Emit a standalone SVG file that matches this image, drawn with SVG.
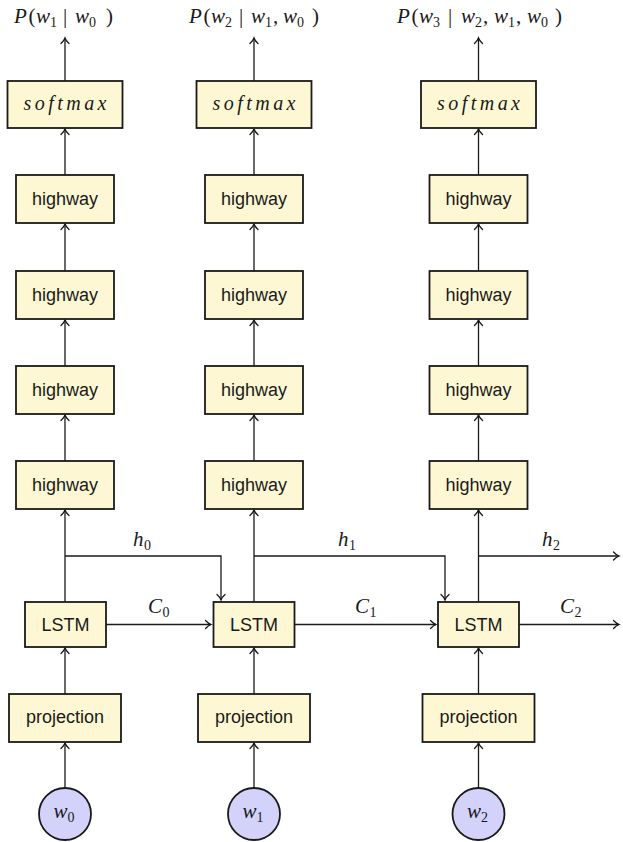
<svg xmlns="http://www.w3.org/2000/svg" width="623" height="842" viewBox="0 0 623 842">
<style>
.box{fill:#fdf8d3;stroke:#1a1a1a;stroke-width:1.8}
.circ{fill:#d2d2fa;stroke:#1a1a1a;stroke-width:1.8}
.lbl{font-family:"Liberation Sans",Arial,sans-serif;font-size:18px;fill:#1a1a1a;text-anchor:middle}
.sm{font-family:"Liberation Serif","Times New Roman",serif;font-style:italic;font-size:20px;fill:#1a1a1a}
.m{font-family:"Liberation Serif","Times New Roman",serif;font-size:21px;fill:#1a1a1a}
.it{font-style:italic}
.sub{font-size:14px;font-style:normal}
.con{fill:none;stroke:#1a1a1a;stroke-width:1.3}
</style>
<defs>
<marker id="ah" markerUnits="userSpaceOnUse" markerWidth="12" markerHeight="12" viewBox="-7 -6 8 12" refX="0" refY="0" orient="auto">
<path d="M-5.5,-4 C-3.5,-1.8 -1.2,-0.4 0,0 C-1.2,0.4 -3.5,1.8 -5.5,4" fill="none" stroke="#1a1a1a" stroke-width="1.3" stroke-linecap="round"/>
</marker>
</defs>

<g id="connectors">
<!-- column 1 x=65 -->
<path class="con" d="M65,788 V743" marker-end="url(#ah)"/>
<path class="con" d="M65,694 V648" marker-end="url(#ah)"/>
<path class="con" d="M65,602 V510" marker-end="url(#ah)"/>
<path class="con" d="M65,461 V415" marker-end="url(#ah)"/>
<path class="con" d="M65,366 V320" marker-end="url(#ah)"/>
<path class="con" d="M65,271 V224" marker-end="url(#ah)"/>
<path class="con" d="M65,175 V129" marker-end="url(#ah)"/>
<path class="con" d="M65,81 V38" marker-end="url(#ah)"/>
<!-- column 2 x=254 -->
<path class="con" d="M254,788 V743" marker-end="url(#ah)"/>
<path class="con" d="M254,694 V648" marker-end="url(#ah)"/>
<path class="con" d="M254,602 V510" marker-end="url(#ah)"/>
<path class="con" d="M254,461 V415" marker-end="url(#ah)"/>
<path class="con" d="M254,366 V320" marker-end="url(#ah)"/>
<path class="con" d="M254,271 V224" marker-end="url(#ah)"/>
<path class="con" d="M254,175 V129" marker-end="url(#ah)"/>
<path class="con" d="M254,81 V38" marker-end="url(#ah)"/>
<!-- column 3 x=478.5 -->
<path class="con" d="M478.5,788 V743" marker-end="url(#ah)"/>
<path class="con" d="M478.5,694 V648" marker-end="url(#ah)"/>
<path class="con" d="M478.5,602 V510" marker-end="url(#ah)"/>
<path class="con" d="M478.5,461 V415" marker-end="url(#ah)"/>
<path class="con" d="M478.5,366 V320" marker-end="url(#ah)"/>
<path class="con" d="M478.5,271 V224" marker-end="url(#ah)"/>
<path class="con" d="M478.5,175 V129" marker-end="url(#ah)"/>
<path class="con" d="M478.5,81 V38" marker-end="url(#ah)"/>
<!-- hidden states -->
<path class="con" d="M65,556 H221 V600" marker-end="url(#ah)"/>
<path class="con" d="M254,556 H445 V600" marker-end="url(#ah)"/>
<path class="con" d="M478.5,556 H619" marker-end="url(#ah)"/>
<!-- cell states -->
<path class="con" d="M106,624.5 H211" marker-end="url(#ah)"/>
<path class="con" d="M294.5,624.5 H436" marker-end="url(#ah)"/>
<path class="con" d="M519,624.5 H619" marker-end="url(#ah)"/>
<!-- labels -->
<text class="m"><tspan class="it" x="133" y="546">h</tspan><tspan class="sub" x="144" y="550">0</tspan></text>
<text class="m"><tspan class="it" x="338" y="546">h</tspan><tspan class="sub" x="349" y="550">1</tspan></text>
<text class="m"><tspan class="it" x="542" y="546">h</tspan><tspan class="sub" x="553" y="550">2</tspan></text>
<text class="m"><tspan class="it" x="148" y="613">C</tspan><tspan class="sub" x="162.5" y="617">0</tspan></text>
<text class="m"><tspan class="it" x="355" y="613">C</tspan><tspan class="sub" x="369.5" y="617">1</tspan></text>
<text class="m"><tspan class="it" x="560" y="613">C</tspan><tspan class="sub" x="574.5" y="617">2</tspan></text>
</g>

<!-- output titles -->
<g id="out1">
<text class="m"><tspan class="it" x="14" y="23">P</tspan><tspan x="28.5" y="23">(</tspan><tspan class="it" x="36" y="23">w</tspan><tspan class="sub" x="50" y="27">1</tspan><tspan x="63" y="23">|</tspan><tspan class="it" x="75" y="23">w</tspan><tspan class="sub" x="89" y="27">0</tspan><tspan x="106" y="23">)</tspan></text>
</g>
<g id="out2">
<text class="m"><tspan class="it" x="189" y="23">P</tspan><tspan x="203.5" y="23">(</tspan><tspan class="it" x="211" y="23">w</tspan><tspan class="sub" x="225" y="27">2</tspan><tspan x="239" y="23">|</tspan><tspan class="it" x="251" y="23">w</tspan><tspan class="sub" x="265" y="27">1</tspan><tspan x="273" y="23">,</tspan><tspan class="it" x="283" y="23">w</tspan><tspan class="sub" x="297" y="27">0</tspan><tspan x="312" y="23">)</tspan></text>
</g>
<g id="out3">
<text class="m"><tspan class="it" x="397" y="23">P</tspan><tspan x="411.5" y="23">(</tspan><tspan class="it" x="419" y="23">w</tspan><tspan class="sub" x="433" y="27">3</tspan><tspan x="448" y="23">|</tspan><tspan class="it" x="461" y="23">w</tspan><tspan class="sub" x="475" y="27">2</tspan><tspan x="483" y="23">,</tspan><tspan class="it" x="494" y="23">w</tspan><tspan class="sub" x="508" y="27">1</tspan><tspan x="516" y="23">,</tspan><tspan class="it" x="527" y="23">w</tspan><tspan class="sub" x="541" y="27">0</tspan><tspan x="555" y="23">)</tspan></text>
</g>

<!-- column 1 -->
<g id="softmax1"><rect class="box" x="7.5" y="81" width="115" height="47"/><text class="sm" x="23.5" y="110" textLength="83" lengthAdjust="spacing">softmax</text></g>
<g id="highway1a"><rect class="box" x="16" y="175" width="98" height="48"/><text class="lbl" x="65" y="205">highway</text></g>
<g id="highway1b"><rect class="box" x="16" y="271" width="98" height="48"/><text class="lbl" x="65" y="301">highway</text></g>
<g id="highway1c"><rect class="box" x="16" y="366" width="98" height="48"/><text class="lbl" x="65" y="396">highway</text></g>
<g id="highway1d"><rect class="box" x="16" y="461" width="98" height="48"/><text class="lbl" x="65" y="491">highway</text></g>
<g id="lstm1"><rect class="box" x="25" y="602" width="81" height="45"/><text class="lbl" x="65.5" y="631">LSTM</text></g>
<g id="proj1"><rect class="box" x="9" y="694" width="112" height="48"/><text class="lbl" x="65" y="723">projection</text></g>
<g id="w0"><circle class="circ" cx="65" cy="814" r="26"/><text class="m"><tspan class="it" x="53.5" y="818">w</tspan><tspan class="sub" x="67.5" y="822">0</tspan></text></g>

<!-- column 2 -->
<g id="softmax2"><rect class="box" x="196.5" y="81" width="115" height="47"/><text class="sm" x="212.5" y="110" textLength="83" lengthAdjust="spacing">softmax</text></g>
<g id="highway2a"><rect class="box" x="205" y="175" width="98" height="48"/><text class="lbl" x="254" y="205">highway</text></g>
<g id="highway2b"><rect class="box" x="205" y="271" width="98" height="48"/><text class="lbl" x="254" y="301">highway</text></g>
<g id="highway2c"><rect class="box" x="205" y="366" width="98" height="48"/><text class="lbl" x="254" y="396">highway</text></g>
<g id="highway2d"><rect class="box" x="205" y="461" width="98" height="48"/><text class="lbl" x="254" y="491">highway</text></g>
<g id="lstm2"><rect class="box" x="213.5" y="602" width="81" height="45"/><text class="lbl" x="254" y="631">LSTM</text></g>
<g id="proj2"><rect class="box" x="198" y="694" width="112" height="48"/><text class="lbl" x="254" y="723">projection</text></g>
<g id="w1"><circle class="circ" cx="254" cy="814" r="26"/><text class="m"><tspan class="it" x="242.5" y="818">w</tspan><tspan class="sub" x="256.5" y="822">1</tspan></text></g>

<!-- column 3 -->
<g id="softmax3"><rect class="box" x="421" y="81" width="115" height="47"/><text class="sm" x="437" y="110" textLength="83" lengthAdjust="spacing">softmax</text></g>
<g id="highway3a"><rect class="box" x="429.5" y="175" width="98" height="48"/><text class="lbl" x="478.5" y="205">highway</text></g>
<g id="highway3b"><rect class="box" x="429.5" y="271" width="98" height="48"/><text class="lbl" x="478.5" y="301">highway</text></g>
<g id="highway3c"><rect class="box" x="429.5" y="366" width="98" height="48"/><text class="lbl" x="478.5" y="396">highway</text></g>
<g id="highway3d"><rect class="box" x="429.5" y="461" width="98" height="48"/><text class="lbl" x="478.5" y="491">highway</text></g>
<g id="lstm3"><rect class="box" x="438" y="602" width="81" height="45"/><text class="lbl" x="478.5" y="631">LSTM</text></g>
<g id="proj3"><rect class="box" x="422.5" y="694" width="112" height="48"/><text class="lbl" x="478.5" y="723">projection</text></g>
<g id="w2"><circle class="circ" cx="478.5" cy="814" r="26"/><text class="m"><tspan class="it" x="467" y="818">w</tspan><tspan class="sub" x="481" y="822">2</tspan></text></g>
</svg>
